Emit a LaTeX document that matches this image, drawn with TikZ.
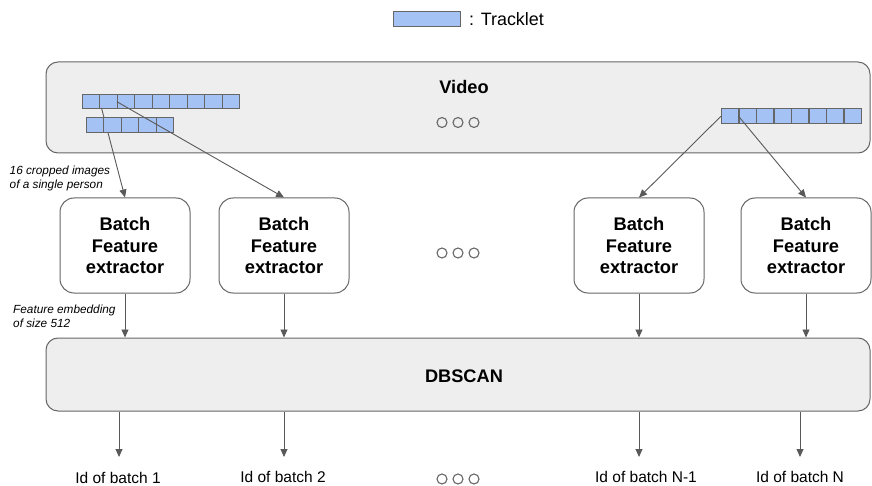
\documentclass[tikz,border=0pt]{standalone}
\usepackage{fontspec}
\setmainfont{Liberation Sans}
\usetikzlibrary{arrows.meta}
\definecolor{panel}{HTML}{EEEEEE}
\definecolor{edge}{HTML}{666666}
\definecolor{cellblue}{HTML}{A4C2F4}
\definecolor{wirecol}{HTML}{595959}
\tikzset{
  panelbox/.style={draw=edge, fill=panel, rounded corners=12pt, line width=1pt, inner sep=0pt},
  extractor/.style={draw=edge, fill=white, rounded corners=14pt, minimum width=130pt,
    minimum height=95pt, line width=1pt, align=center, inner sep=0pt,
    font=\fontsize{18.3}{21.5}\selectfont\bfseries},
  cellbox/.style={draw=edge, fill=cellblue, line width=0.9pt, minimum height=14.5pt,
    minimum width=17.45pt, inner sep=0pt, anchor=north west},
  wire/.style={draw=wirecol, line width=0.9pt, -{Triangle[length=8pt,width=7pt]}},
  dot/.style={circle, draw=edge, line width=1.1pt, minimum size=10pt, inner sep=0pt},
  note/.style={font=\fontsize{11.8}{14}\selectfont\itshape, align=left, anchor=west, inner sep=0pt},
  outlabel/.style={font=\fontsize{15.5}{18}\selectfont, inner sep=0pt},
  title/.style={font=\fontsize{18.2}{20}\selectfont\bfseries, inner sep=0pt},
}
\begin{document}
\begin{tikzpicture}[x=1pt,y=-1pt]
\useasboundingbox (0,0) rectangle (872,486);

% legend
\node[draw=edge, fill=cellblue, line width=0.9pt, minimum width=67pt, minimum height=15pt,
  inner sep=0pt] (legbox) at (426.5,18.5) {};
\node[font=\fontsize{17.9}{20}\selectfont, anchor=west, inner sep=0pt] (legtext) at (469,19) {: Tracklet};

% video panel
\node[panelbox, minimum width=824pt, minimum height=91pt] (video) at (458,107.5) {};
\node[title] (videolabel) at (464,87) {Video};
\node[dot] (vd1) at (442,122.5) {};
\node[dot] (vd2) at (458,122.5) {};
\node[dot] (vd3) at (474,122.5) {};

% tracklets inside the video
\foreach \k in {1,...,9}
  \node[cellbox] (ta-\k) at ({82+(\k-1)*17.45},94) {};
\foreach \k in {1,...,8}
  \node[cellbox] (tc-\k) at ({721+(\k-1)*17.5},108.5) {};

% feature extractors
\node[extractor] (e1) at (125,245.5) {Batch\\Feature\\extractor};
\node[extractor] (e2) at (284,245.5) {Batch\\Feature\\extractor};
\node[extractor] (e3) at (639,245.5) {Batch\\Feature\\extractor};
\node[extractor] (e4) at (806,245.5) {Batch\\Feature\\extractor};
\node[dot] (md1) at (442,253) {};
\node[dot] (md2) at (458,253) {};
\node[dot] (md3) at (474,253) {};

% tracklets to extractors
\coordinate (s1) at (101.5,108);
\draw[wire] (s1) -- (e1.north);
\foreach \k in {1,...,5}
  \node[cellbox] (tb-\k) at ({86+(\k-1)*17.45},117.5) {};
\draw[wire] (ta-3.west) -- (e2.north);
\draw[wire] (tc-1.west) -- (e3.north);
\draw[wire] (tc-2.west) -- (e4.north);

% notes
\node[note] (n1) at (9.5,178) {16 cropped images\\of a single person};
\node[note] (n2) at (13,316) {Feature embedding\\of size 512};

% clustering
\node[panelbox, minimum width=824pt, minimum height=73pt] (db) at (458,374.5) {};
\node[title] (dblabel) at (464,376) {DBSCAN};
\foreach \e in {e1,e2,e3,e4}
  \draw[wire] (\e.south) -- (\e.south |- db.north);

% outputs
\coordinate (tip1) at (119,457);
\coordinate (tip2) at (284,457);
\coordinate (tip3) at (639,457);
\coordinate (tip4) at (800,457);
\foreach \t in {tip1,tip2,tip3,tip4}
  \draw[wire] (db.south -| \t) -- (\t);
\node[outlabel] (o1) at (118,477.5) {Id of batch 1};
\node[outlabel] (o2) at (283,477) {Id of batch 2};
\node[outlabel] (o3) at (646,476.5) {Id of batch N-1};
\node[outlabel] (o4) at (800,476.5) {Id of batch N};
\node[dot] (bd1) at (442,479) {};
\node[dot] (bd2) at (458,479) {};
\node[dot] (bd3) at (474,479) {};
\end{tikzpicture}
\end{document}
